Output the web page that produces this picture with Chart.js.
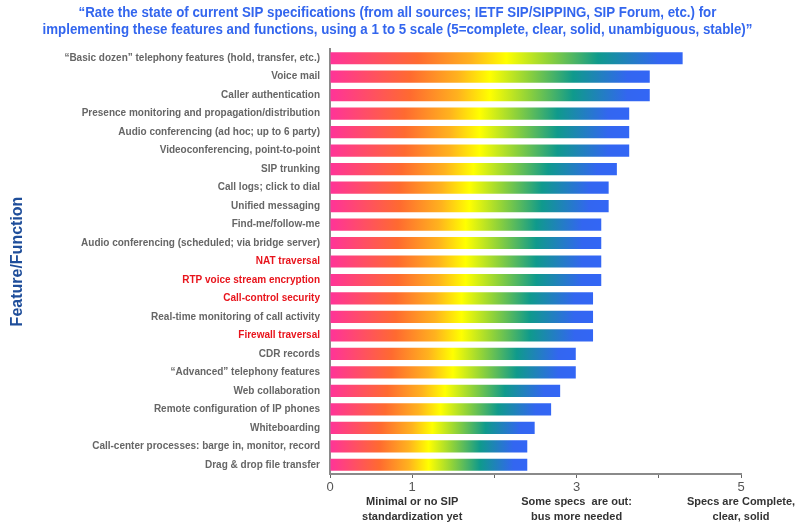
<!DOCTYPE html>
<html>
<head>
<meta charset="utf-8">
<script src="https://cdn.jsdelivr.net/npm/chart.js@4/dist/chart.umd.min.js"></script>
<style>
html,body{margin:0;padding:0;background:#fff;}
canvas{display:block;}
</style>
</head>
<body>
<canvas id="c" width="795" height="528"></canvas>
<script>
const titleLines = [
  '\u201CRate the state of current SIP specifications (from all sources; IETF SIP/SIPPING, SIP Forum, etc.) for',
  'implementing these features and functions, using a 1 to 5 scale (5=complete, clear, solid, unambiguous, stable)\u201D'
];
const categories = [
  '\u201CBasic dozen\u201D telephony features (hold, transfer, etc.)',
  'Voice mail',
  'Caller authentication',
  'Presence monitoring and propagation/distribution',
  'Audio conferencing (ad hoc; up to 6 party)',
  'Videoconferencing, point-to-point',
  'SIP trunking',
  'Call logs; click to dial',
  'Unified messaging',
  'Find-me/follow-me',
  'Audio conferencing (scheduled; via bridge server)',
  'NAT traversal',
  'RTP voice stream encryption',
  'Call-control security',
  'Real-time monitoring of call activity',
  'Firewall traversal',
  'CDR records',
  '\u201CAdvanced\u201D telephony features',
  'Web collaboration',
  'Remote configuration of IP phones',
  'Whiteboarding',
  'Call-center processes: barge in, monitor, record',
  'Drag & drop file transfer'
];
const scores = [4.29, 3.89, 3.89, 3.64, 3.64, 3.64, 3.49, 3.39, 3.39, 3.30, 3.30, 3.30, 3.30,
                3.20, 3.20, 3.20, 2.99, 2.99, 2.80, 2.69, 2.49, 2.40, 2.40];
const highlighted = ['NAT traversal', 'RTP voice stream encryption', 'Call-control security', 'Firewall traversal'];
const labeledTicks = [0, 1, 3, 5];
const noteValues = [1, 3, 5];
const noteLines = [
  ['Minimal or no SIP', 'standardization yet'],
  ['Some specs  are out:', 'bus more needed'],
  ['Specs are Complete,', 'clear, solid']
];
const yTitle = 'Feature/Function';

const gradStops = [
  [0.00, '#ff3399'],
  [0.25, '#ff6a30'],
  [0.40, '#ffb21e'],
  [0.50, '#ffff00'],
  [0.62, '#8fd23a'],
  [0.76, '#0f9a8c'],
  [0.93, '#3366f0'],
  [1.00, '#3366f5']
];

Chart.defaults.font.family = '"Liberation Sans", Arial, sans-serif';

const titlePlugin = {
  id: 'condensedTitle',
  afterDraw(chart) {
    const ctx = chart.ctx;
    ctx.save();
    ctx.font = 'bold 14px "Liberation Sans", Arial, sans-serif';
    ctx.fillStyle = '#3366ee';
    ctx.textAlign = 'center';
    ctx.textBaseline = 'middle';
    const cx = chart.width / 2;
    ctx.translate(cx, 0);
    ctx.scale(0.95, 1);
    titleLines.forEach((line, i) => ctx.fillText(line, 0, 13 + i * 17));
    ctx.restore();
  }
};

const notesPlugin = {
  id: 'notes',
  afterDraw(chart) {
    const xs = chart.scales.x;
    const ctx = chart.ctx;
    ctx.save();
    ctx.font = 'bold 11px "Liberation Sans", Arial, sans-serif';
    ctx.fillStyle = '#333';
    ctx.textAlign = 'center';
    ctx.textBaseline = 'middle';
    noteValues.forEach((v, i) => {
      const x = xs.getPixelForValue(v);
      noteLines[i].forEach((line, j) => {
        ctx.fillText(line, x, chart.chartArea.bottom + 28 + j * 15);
      });
    });
    ctx.restore();
  }
};

new Chart(document.getElementById('c'), {
  type: 'bar',
  data: {
    labels: categories,
    datasets: [{
      data: scores,
      backgroundColor: (c) => {
        const ch = c.chart;
        const xs = ch.scales && ch.scales.x;
        if (!xs || !ch.chartArea || c.type !== 'data') return '#ff3399';
        const x0 = xs.getPixelForValue(0);
        const x1 = xs.getPixelForValue(c.raw);
        const g = ch.ctx.createLinearGradient(x0, 0, x1, 0);
        gradStops.forEach(s => g.addColorStop(s[0], s[1]));
        return g;
      },
      borderWidth: 0,
      barPercentage: 0.66,
      categoryPercentage: 1
    }]
  },
  options: {
    indexAxis: 'y',
    responsive: false,
    animation: false,
    layout: { padding: { left: 0, right: 54, top: 49, bottom: 0 } },
    plugins: {
      legend: { display: false },
      tooltip: { enabled: false },
      title: { display: false }
    },
    scales: {
      x: {
        min: 0, max: 5,
        ticks: {
          stepSize: 1,
          autoSkip: false,
          maxRotation: 0,
          callback: (v) => labeledTicks.includes(v) ? String(v) : '',
          color: '#555',
          font: { size: 13 },
          padding: 2
        },
        grid: { drawOnChartArea: false, drawTicks: true, tickLength: 4, color: '#666' },
        border: { color: '#8a8a8a', width: 2 },
        afterFit: (s) => { s.height = 54; }
      },
      y: {
        ticks: {
          autoSkip: false,
          color: (c) => highlighted.includes(categories[c.index]) ? '#e8141c' : '#666',
          font: { size: 10, weight: 'bold' },
          padding: 10
        },
        grid: { display: false, drawTicks: false },
        border: { color: '#8a8a8a', width: 2 },
        title: {
          display: true,
          text: yTitle,
          color: '#1f4e9a',
          font: { size: 16, weight: 'bold' },
          padding: { top: 8, bottom: 0 }
        },
        afterFit: (s) => { s.width = 330; }
      }
    }
  },
  plugins: [titlePlugin, notesPlugin]
});
</script>
</body>
</html>
